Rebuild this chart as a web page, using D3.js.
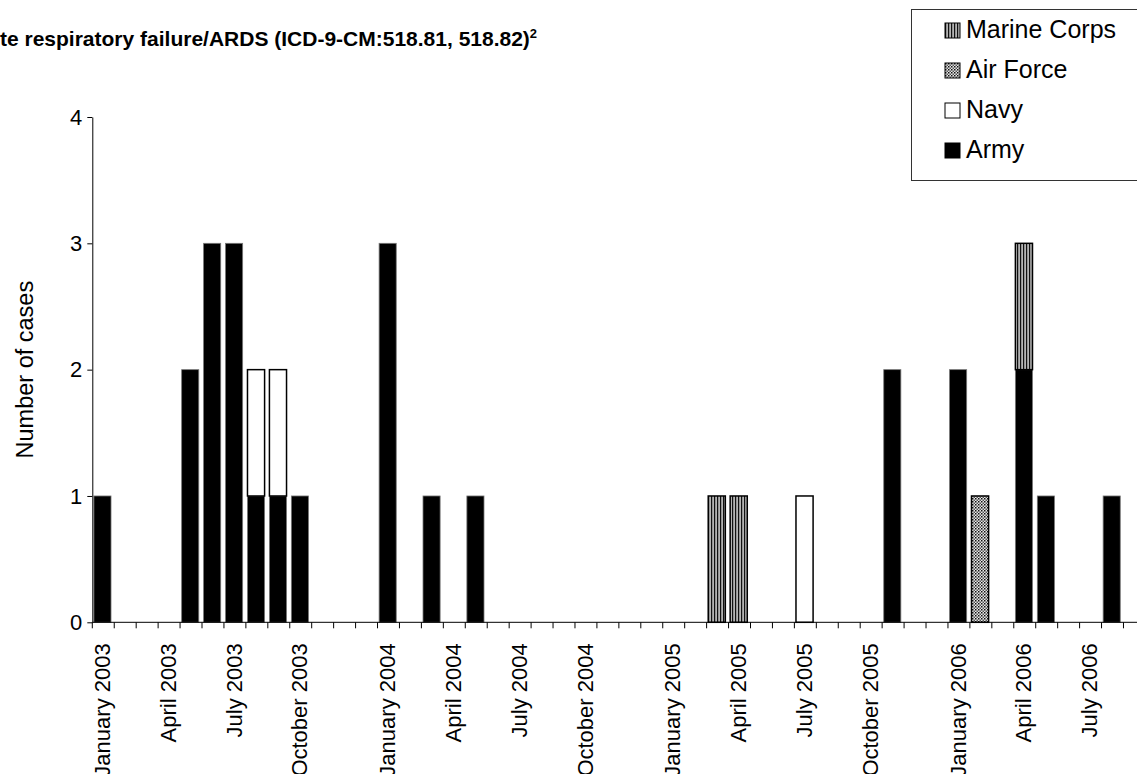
<!DOCTYPE html>
<html>
<head>
<meta charset="utf-8">
<script src="https://cdn.jsdelivr.net/npm/d3@7"></script>
<style>
  body { margin: 0; background: #fff; }
  svg { display: block; font-family: "Liberation Sans", Arial, sans-serif; }
</style>
</head>
<body>
<div id="chart"></div>
<script>
// Cases per month by service, one empty slot between the years
const categories = [
  "Jan 2003", "Feb 2003", "Mar 2003", "Apr 2003", "May 2003", "Jun 2003", "Jul 2003", "Aug 2003", "Sep 2003", "Oct 2003", "Nov 2003", "Dec 2003", "gap 2003",
  "Jan 2004", "Feb 2004", "Mar 2004", "Apr 2004", "May 2004", "Jun 2004", "Jul 2004", "Aug 2004", "Sep 2004", "Oct 2004", "Nov 2004", "Dec 2004", "gap 2004",
  "Jan 2005", "Feb 2005", "Mar 2005", "Apr 2005", "May 2005", "Jun 2005", "Jul 2005", "Aug 2005", "Sep 2005", "Oct 2005", "Nov 2005", "Dec 2005", "gap 2005",
  "Jan 2006", "Feb 2006", "Mar 2006", "Apr 2006", "May 2006", "Jun 2006", "Jul 2006", "Aug 2006", "Sep 2006"
];

const army = [
  1, 0, 0, 0, 2, 3, 3, 1, 1, 1, 0, 0, 0,
  3, 0, 1, 0, 1, 0, 0, 0, 0, 0, 0, 0, 0,
  0, 0, 0, 0, 0, 0, 0, 0, 0, 0, 2, 0, 0,
  2, 0, 0, 2, 1, 0, 0, 1, 0
];
const navy = [
  0, 0, 0, 0, 0, 0, 0, 1, 1, 0, 0, 0, 0,
  0, 0, 0, 0, 0, 0, 0, 0, 0, 0, 0, 0, 0,
  0, 0, 0, 0, 0, 0, 1, 0, 0, 0, 0, 0, 0,
  0, 0, 0, 0, 0, 0, 0, 0, 0
];
const airForce = [
  0, 0, 0, 0, 0, 0, 0, 0, 0, 0, 0, 0, 0,
  0, 0, 0, 0, 0, 0, 0, 0, 0, 0, 0, 0, 0,
  0, 0, 0, 0, 0, 0, 0, 0, 0, 0, 0, 0, 0,
  0, 1, 0, 0, 0, 0, 0, 0, 0
];
const marineCorps = [
  0, 0, 0, 0, 0, 0, 0, 0, 0, 0, 0, 0, 0,
  0, 0, 0, 0, 0, 0, 0, 0, 0, 0, 0, 0, 0,
  0, 0, 1, 1, 0, 0, 0, 0, 0, 0, 0, 0, 0,
  0, 0, 0, 1, 0, 0, 0, 0, 0
];

const tickLabels = [
  "January 2003", "April 2003", "July 2003", "October 2003",
  "January 2004", "April 2004", "July 2004", "October 2004",
  "January 2005", "April 2005", "July 2005", "October 2005",
  "January 2006", "April 2006", "July 2006"
];
const tickCategories = [
  "Jan 2003", "Apr 2003", "Jul 2003", "Oct 2003",
  "Jan 2004", "Apr 2004", "Jul 2004", "Oct 2004",
  "Jan 2005", "Apr 2005", "Jul 2005", "Oct 2005",
  "Jan 2006", "Apr 2006", "Jul 2006"
];
const yTicks = [0, 1, 2, 3, 4];

const keys = ["Army", "Navy", "Air Force", "Marine Corps"];
const legendOrder = ["Marine Corps", "Air Force", "Navy", "Army"];

const width = 1137, height = 774;
const plot = {left: 92.3, top: 117, bottom: 622.3, step: 21.94};

const svg = d3.select("#chart").append("svg")
    .attr("width", width)
    .attr("height", height);

// Fill patterns for the hatched services
const defs = svg.append("defs");
const pMarine = defs.append("pattern")
    .attr("id", "pMarine")
    .attr("patternUnits", "userSpaceOnUse")
    .attr("width", 3).attr("height", 6);
pMarine.append("rect").attr("width", 3).attr("height", 6).attr("fill", "#b4b4b4");
pMarine.append("rect").attr("width", 1.2).attr("height", 6).attr("fill", "#111");

const pAir = defs.append("pattern")
    .attr("id", "pAir")
    .attr("patternUnits", "userSpaceOnUse")
    .attr("width", 3).attr("height", 3);
pAir.append("rect").attr("width", 3).attr("height", 3).attr("fill", "#e8e8e8");
pAir.append("rect").attr("width", 1.5).attr("height", 1.5).attr("fill", "#111");
pAir.append("rect").attr("x", 1.5).attr("y", 1.5).attr("width", 1.5).attr("height", 1.5).attr("fill", "#555");

const styles = {
    "Army": {fill: "#000", stroke: "#777", sw: 0.8},
    "Navy": {fill: "#fff", stroke: "#000", sw: 1.5},
    "Air Force": {fill: "url(#pAir)", stroke: "#000", sw: 1.5},
    "Marine Corps": {fill: "url(#pMarine)", stroke: "#000", sw: 1.5}
};

// Scales
const x = d3.scaleBand()
    .domain(categories)
    .range([plot.left, plot.left + categories.length * plot.step])
    .paddingInner(0)
    .paddingOuter(0);

const y = d3.scaleLinear()
    .domain([0, 4])
    .range([plot.bottom, plot.top]);

// Stack the series
const rows = categories.map((c, i) => ({
    category: c,
    "Army": army[i],
    "Navy": navy[i],
    "Air Force": airForce[i],
    "Marine Corps": marineCorps[i]
}));
const stacked = d3.stack().keys(keys)(rows);

svg.append("g").selectAll("g")
    .data(stacked)
    .enter().append("g")
    .attr("fill", d => styles[d.key].fill)
    .attr("stroke", d => styles[d.key].stroke)
    .attr("stroke-width", d => styles[d.key].sw)
    .selectAll("rect")
    .data(d => d.filter(v => v[1] > v[0]))
    .enter().append("rect")
    .attr("x", d => x(d.data.category) + 1.6)
    .attr("width", x.bandwidth() * 0.78)
    .attr("y", d => y(d[1]))
    .attr("height", d => y(d[0]) - y(d[1]));

// y axis
const yAxis = svg.append("g")
    .attr("transform", "translate(" + plot.left + ",0)")
    .call(d3.axisLeft(y).tickValues(yTicks).tickSize(5).tickSizeOuter(0).tickPadding(5).tickFormat(d3.format("d")));
yAxis.select(".domain").attr("stroke", "#000");
yAxis.selectAll("line").attr("stroke", "#000");
yAxis.selectAll("text")
    .attr("font-size", "22px")
    .attr("font-family", "Liberation Sans, Arial, sans-serif")
    .attr("fill", "#000");

// x axis: line, ticks on the band edges
const xAxis = svg.append("g");
xAxis.append("line")
    .attr("x1", x.range()[0]).attr("x2", x.range()[1])
    .attr("y1", plot.bottom).attr("y2", plot.bottom)
    .attr("stroke", "#000");
xAxis.selectAll(".tick")
    .data(categories.concat(["end"]))
    .enter().append("line")
    .attr("class", "tick")
    .attr("x1", d => d === "end" ? x.range()[1] : x(d))
    .attr("x2", d => d === "end" ? x.range()[1] : x(d))
    .attr("y1", plot.bottom).attr("y2", plot.bottom + 6)
    .attr("stroke", "#000");
xAxis.selectAll(".label")
    .data(tickCategories)
    .enter().append("text")
    .attr("class", "label")
    .attr("transform", d => "translate(" + (x(d) + x.bandwidth() / 2 - 1) + "," + (plot.bottom + 21) + ") rotate(-90)")
    .attr("dy", "0.35em")
    .attr("text-anchor", "end")
    .attr("font-size", "22px")
    .text((d, i) => tickLabels[i]);

// y axis title
svg.append("text")
    .attr("transform", "translate(33," + ((plot.top + plot.bottom) / 2) + ") rotate(-90)")
    .attr("text-anchor", "middle")
    .attr("font-size", "23.5px")
    .text("Number of cases");

// Chart title (cut at the left edge of the picture)
const title = svg.append("text")
    .attr("x", 0)
    .attr("y", 46)
    .attr("font-size", "21px")
    .attr("font-weight", "bold")
    .text("te respiratory failure/ARDS (ICD-9-CM:518.81, 518.82)");
title.append("tspan")
    .attr("dy", -8)
    .attr("font-size", "13px")
    .text("2");

// Legend
const legend = svg.append("g");
legend.append("rect")
    .attr("x", 911.5).attr("y", 9.5)
    .attr("width", 260).attr("height", 171)
    .attr("fill", "#fff")
    .attr("stroke", "#333");
const item = legend.selectAll(".item")
    .data(legendOrder)
    .enter().append("g")
    .attr("class", "item")
    .attr("transform", (d, i) => "translate(945," + (38 + i * 40) + ")");
item.append("rect")
    .attr("y", -15).attr("width", 15).attr("height", 15)
    .attr("fill", d => styles[d].fill)
    .attr("stroke", "#000")
    .attr("stroke-width", 1);
item.append("text")
    .attr("x", 21)
    .attr("font-size", "25px")
    .text(d => d);
</script>
</body>
</html>
